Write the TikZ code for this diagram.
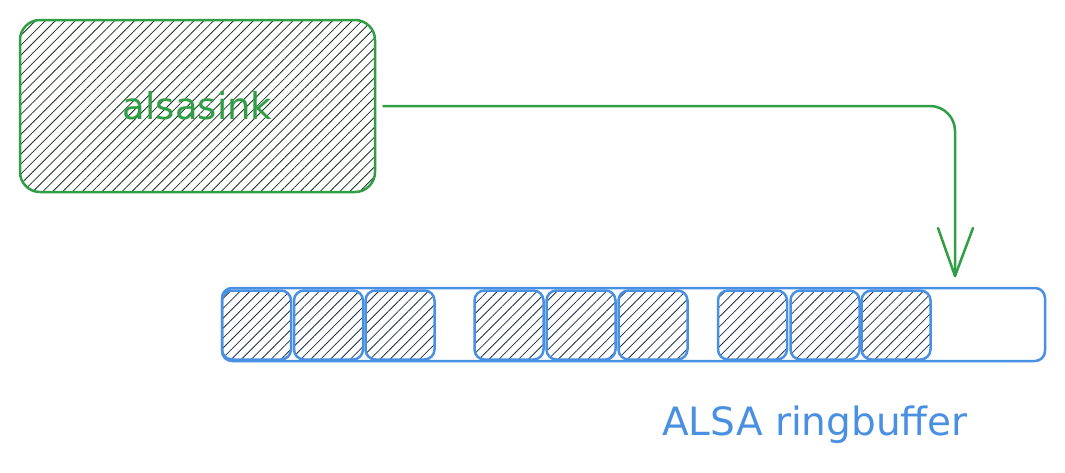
\documentclass[tikz,border=0pt]{standalone}
\usepackage{fontspec}
\setmainfont{DejaVu Sans}
\usetikzlibrary{patterns.meta}
\definecolor{sinkgreen}{HTML}{2F9E44}
\definecolor{bufblue}{HTML}{4A90E2}
\definecolor{hatchdark}{HTML}{17301F}
\definecolor{hatchnavy}{HTML}{1A2F48}
\tikzset{
  sinkbox/.style={draw=sinkgreen, line width=2.5pt, rounded corners=20pt,
    pattern={Lines[angle=45,distance=7pt,line width=0.8pt]}, pattern color=hatchdark,
    minimum width=355pt, minimum height=172pt, inner sep=0pt,
    text=sinkgreen, font=\fontsize{37}{39}\selectfont},
  bufbox/.style={draw=bufblue, line width=2.5pt, rounded corners=10pt,
    minimum width=823pt, minimum height=73pt, inner sep=0pt},
  cellbox/.style={draw=bufblue, line width=2.5pt, rounded corners=10pt,
    pattern={Lines[angle=45,distance=7pt,line width=0.8pt]}, pattern color=hatchnavy,
    minimum width=69pt, minimum height=69pt, inner sep=0pt},
  lbl/.style={text=bufblue, font=\fontsize{39}{41}\selectfont, inner sep=0pt},
  flow/.style={draw=sinkgreen, line width=2.5pt, line cap=round}
}
\begin{document}
\begin{tikzpicture}[x=1pt,y=-1pt]
\useasboundingbox (0,0) rectangle (1065,472);
\node[sinkbox] (sink) at (197.5,106) {alsasink};
\node[bufbox] (buf) at (633.5,324.5) {};
\foreach \i/\x in {1/256.5,2/328.5,3/400,4/509,5/581,6/653,7/752.5,8/825,9/896}
  \node[cellbox] (c\i) at (\x,325) {};
\node[lbl] (label) at (815,425) {ALSA ringbuffer};
\coordinate (tip) at (955,276);
\draw[flow, rounded corners=25pt] ([xshift=8pt]sink.east) -| (tip);
\draw[flow] (tip) -- ++(-17,-48);
\draw[flow] (tip) -- ++(18,-48);
\end{tikzpicture}
\end{document}
